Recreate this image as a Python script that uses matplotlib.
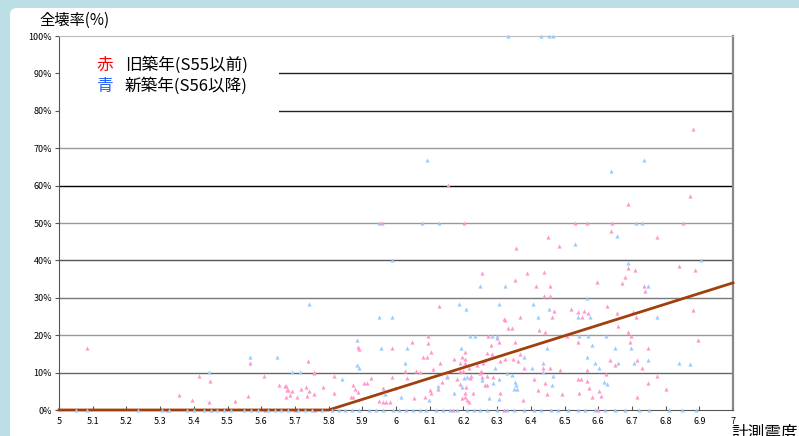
# -*- coding: utf-8 -*-
"""
Total collapse rate of wooden houses against measured seismic intensity.
Red marks: older buildings (built S55 or earlier), blue marks: newer ones
(built S56 or later). The brown line is the fitted damage curve.
"""

import matplotlib.pyplot as plt
from matplotlib.patches import FancyBboxPatch, Rectangle

plt.rcParams['font.family'] = ['Noto Sans CJK JP', 'DejaVu Sans']

#--------#
# INPUTS #
#--------#

# old buildings (S55 and before): intensity, collapse rate [%]
old_x = [5.083, 5.567, 5.739, 5.757, 5.816, 5.415, 5.448, 5.608, 5.357, 5.395,
         5.445, 5.523, 5.561, 5.653, 5.674, 5.680, 5.690, 5.674, 5.685, 5.706,
         5.718, 5.733, 5.742, 5.736, 5.757, 5.783, 5.816, 5.757, 5.671, 5.677,
         6.154, 5.958, 6.202, 6.356, 6.255, 6.389, 6.353, 6.881,
         6.872, 6.688, 6.531, 6.567, 6.641, 6.852, 6.638, 6.451, 6.774, 6.484,
         6.688, 6.709, 6.840, 6.887, 6.439, 6.679, 6.671, 6.596, 6.415, 6.457,
         6.736, 6.739, 6.439, 6.457, 6.626, 6.519, 6.469, 6.540, 6.558, 6.570,
         6.656, 6.703, 6.881, 6.463, 6.552, 6.712, 6.659, 6.424, 6.442, 6.507,
         6.688, 6.697, 6.896, 6.540, 6.694, 6.748, 6.368, 6.635, 6.715, 6.650,
         6.380, 6.436, 6.457, 6.487, 6.567, 6.730, 6.623, 6.774, 6.409, 6.540,
         6.549, 6.442, 6.567, 6.748, 6.573, 6.801, 6.421, 6.602, 6.448, 6.493,
         6.543, 6.608, 6.582, 6.715, 6.377,
         6.323, 6.332, 6.344, 6.273, 6.300, 6.306, 6.353, 6.282, 6.205, 6.270,
         6.285, 6.172, 6.205, 6.196, 6.264, 6.309, 6.323, 6.347, 6.362, 6.190,
         6.205, 6.240, 6.258, 6.217, 6.190, 6.199, 6.252, 6.249, 6.223, 6.220,
         6.181, 6.255, 6.270, 6.288, 6.190, 6.264, 6.270, 6.208, 6.205, 6.229,
         6.309, 6.196, 6.211, 6.217, 6.205, 6.368, 6.320,
         6.128, 5.887, 5.890, 5.988, 6.047, 6.095, 6.095, 6.104, 6.080, 6.092,
         6.131, 6.027, 6.059, 6.071, 6.110, 5.988, 5.926, 6.033, 5.905, 5.914,
         5.872, 5.878, 5.961, 5.997, 5.887, 6.101, 6.104, 5.866, 5.872, 6.053,
         6.086, 5.950, 5.961, 5.970, 5.982, 6.125, 6.137, 6.151,
         5.320, 5.450, 5.610, 5.700, 5.760, 6.170, 6.320, 6.600]
old_y = [16.6, 12.6, 13.1, 10.2, 9.1, 9.1, 7.8, 9.1, 4.0, 2.7,
         2.1, 2.4, 3.7, 6.7, 6.4, 5.3, 5.1, 3.5, 4.0, 3.5,
         5.6, 6.1, 5.1, 3.7, 4.3, 6.1, 4.5, 9.9, 6.4, 5.3,
         60.2, 50.0, 50.0, 43.3, 36.6, 36.6, 34.8, 75.1,
         57.2, 55.1, 50.0, 50.0, 50.0, 50.0, 47.9, 46.3, 46.3, 43.9,
         38.0, 37.4, 38.5, 37.4, 36.9, 35.6, 34.0, 34.2, 33.2, 33.2,
         33.2, 31.8, 30.5, 30.5, 27.8, 27.0, 26.5, 26.2, 26.5, 25.9,
         25.9, 26.2, 26.7, 24.9, 24.9, 24.9, 22.5, 21.4, 20.9, 19.8,
         20.9, 19.8, 18.7, 18.2, 18.2, 16.6, 15.0, 13.4, 13.4, 12.0,
         11.2, 11.2, 11.2, 10.7, 10.7, 11.2, 9.6, 9.1, 8.3, 8.3,
         8.3, 7.2, 7.8, 7.2, 5.9, 5.6, 5.3, 5.1, 4.3, 4.3,
         4.5, 3.7, 3.5, 3.5, 2.7,
         24.1, 21.9, 21.9, 19.8, 19.3, 18.2, 18.2, 17.4, 15.5, 15.2,
         15.0, 13.6, 13.6, 14.2, 13.4, 13.1, 13.6, 13.6, 13.1, 12.6,
         12.6, 12.0, 12.6, 11.2, 10.4, 10.4, 10.4, 9.9, 9.1, 8.6,
         8.3, 8.8, 9.1, 8.8, 7.0, 6.7, 6.7, 6.1, 4.5, 4.5,
         4.5, 3.2, 2.7, 2.1, 3.5, 24.9, 24.3,
         27.8, 16.8, 16.3, 16.6, 18.2, 19.8, 17.9, 15.5, 14.2, 14.2,
         12.6, 10.4, 10.4, 10.2, 11.0, 8.8, 8.6, 8.6, 7.2, 7.2,
         6.7, 5.6, 5.9, 5.9, 4.8, 5.3, 4.5, 3.5, 3.5, 3.2,
         3.5, 2.4, 2.1, 2.1, 2.1, 5.6, 7.5, 8.8,
         0, 0, 0, 0, 0, 0, 0, 0]

# new buildings (S56 and after)
new_x = [5.742, 5.567, 5.647, 5.445, 5.690, 5.716,
         6.332, 6.430, 6.454, 6.466,
         6.092, 5.950, 6.077, 6.128, 5.988, 6.249, 6.323,
         6.736, 6.638, 6.712, 6.730, 6.656, 6.531, 6.905, 6.688, 6.748, 6.567,
         6.407, 6.454, 6.421, 6.540, 6.576, 6.774, 6.543, 6.570, 6.623, 6.582,
         6.448, 6.650, 6.697, 6.380, 6.567, 6.748, 6.436, 6.590, 6.659, 6.706,
         6.840, 6.872, 6.404, 6.602, 6.436, 6.466, 6.617, 6.626, 6.463,
         6.187, 6.208, 6.306, 6.220, 6.234, 6.285, 6.300, 6.193, 6.294, 6.329,
         6.202, 6.211, 6.255, 6.306, 6.344, 6.288, 6.353, 6.356, 6.196, 6.359,
         6.350, 6.172, 6.276, 6.306,
         5.950, 5.988, 5.884, 5.955, 6.033, 6.027, 5.884, 5.890, 5.840, 5.967,
         6.015, 6.098, 6.125, 6.151,
         5.050, 5.083, 5.234, 5.306, 5.326, 5.380, 5.400, 5.430, 5.450, 5.470,
         5.490, 5.510, 5.550, 5.570, 5.590, 5.620, 5.640, 5.660, 5.680, 5.710,
         5.730, 5.750, 5.780, 5.810, 5.830, 5.850, 5.870, 5.890, 5.920, 5.940,
         5.960, 5.990, 6.010, 6.030, 6.050, 6.070, 6.090, 6.120, 6.140, 6.160,
         6.180, 6.210, 6.230, 6.250, 6.270, 6.300, 6.330, 6.350, 6.380, 6.410,
         6.430, 6.460, 6.480, 6.510, 6.540, 6.560, 6.590, 6.620, 6.650, 6.680,
         6.720, 6.750, 6.810, 6.850, 6.890]
new_y = [28.3, 14.2, 14.2, 10.2, 10.2, 10.2,
         100, 100, 100, 100,
         66.8, 50.0, 50.0, 50.0, 40.1, 33.2, 33.2,
         66.8, 63.9, 50.0, 50.0, 46.5, 44.4, 40.1, 39.3, 33.2, 29.9,
         28.3, 27.0, 24.9, 24.9, 24.9, 24.9, 19.8, 19.8, 19.8, 17.4,
         16.6, 16.6, 16.6, 14.2, 14.2, 13.4, 12.6, 12.6, 12.6, 12.6,
         12.6, 12.3, 11.2, 11.2, 10.2, 9.1, 7.5, 7.0, 6.7,
         28.3, 27.0, 28.3, 19.8, 19.8, 19.8, 19.8, 16.6, 11.2, 9.9,
         8.6, 8.8, 8.0, 8.3, 9.4, 7.2, 7.5, 6.7, 6.1, 5.6,
         5.6, 4.5, 3.2, 2.9,
         24.9, 24.9, 18.7, 16.6, 16.6, 12.6, 12.0, 11.2, 8.3, 4.3,
         3.5, 2.7, 6.4, 9.1] + [0] * 65

# fitted damage curve (knots)
fit_x = [5.0, 5.8, 7.0]
fit_y = [0.0, 0.0, 34.0]

x_ticks = [5, 5.1, 5.2, 5.3, 5.4, 5.5, 5.6, 5.7, 5.8, 5.9,
           6, 6.1, 6.2, 6.3, 6.4, 6.5, 6.6, 6.7, 6.8, 6.9, 7]
y_ticks = [0, 10, 20, 30, 40, 50, 60, 70, 80, 90, 100]

# grid line colours, 10% .. 90%
grid_cols = ['#666666', '#999999', '#777777', '#555555', '#999999',
             '#000000', '#999999', '#222222', '#222222']

#------#
# MAIN #
#------#

fig = plt.figure(figsize=(7.99, 4.36), dpi=100)
fig.patch.set_facecolor('#bcdfe5')

# white sheet with rounded top-left corner (kept behind the axes)
sheet = FancyBboxPatch((0.10, -0.3), 8.2, 4.58,
                       boxstyle='round,pad=0,rounding_size=0.07',
                       transform=fig.dpi_scale_trans, facecolor='white',
                       edgecolor='none', zorder=-5)
fig.patches.append(sheet)

ax = fig.add_axes([59 / 799, 26 / 436, 674 / 799, 374 / 436])
ax.set_zorder(1)
ax.set_facecolor('none')
ax.set_xlim(5, 7)
ax.set_ylim(0, 100)

# horizontal grid
for val, col in zip(y_ticks[1:-1], grid_cols):
    ax.axhline(val, color=col, lw=1.0, zorder=1)

# white box behind the legend text
ax.add_patch(Rectangle((0.0, 0.762), 0.326, 0.225, transform=ax.transAxes,
                       facecolor='white', edgecolor='none', zorder=2))

ax.scatter(old_x, old_y, marker='^', s=9, color='#ff99cc', linewidths=0,
           zorder=3, clip_on=False)
ax.plot(fit_x, fit_y, color='#a0400c', lw=2.0, zorder=4, clip_on=False)
ax.scatter(new_x, new_y, marker='^', s=9, color='#99ccff', linewidths=0,
           zorder=5, clip_on=False)

# frame
ax.spines['left'].set_color('#555555')
ax.spines['bottom'].set_color('#555555')
ax.spines['top'].set_color('#bbbbbb')
ax.spines['right'].set_color('#888888')
ax.spines['right'].set_linewidth(1.6)

ax.set_xticks(x_ticks)
ax.set_xticklabels(['%g' % t for t in x_ticks], fontsize=6.5)
ax.set_yticks(y_ticks)
ax.set_yticklabels(['%d%%' % t for t in y_ticks], fontsize=6.5)
ax.tick_params(axis='x', direction='in', length=3, color='#555555', pad=5)
ax.tick_params(axis='y', direction='out', length=3, color='#555555', pad=2)

# axis titles
fig.text(39 / 799, 1 - 20 / 436, '全壊率(%)', fontsize=11, ha='left',
         va='center')
fig.text(731 / 799, 1 - 433 / 436, '計測震度', fontsize=12, ha='left',
         va='center')

# legend
fig.text(105 / 799, 1 - 65 / 436, '赤', color='red', fontsize=12,
         ha='center', va='center')
fig.text(125 / 799, 1 - 65 / 436, '旧築年(S55以前)', fontsize=12,
         ha='left', va='center')
fig.text(105 / 799, 1 - 86 / 436, '青', color='#1f5fff', fontsize=12,
         ha='center', va='center')
fig.text(125 / 799, 1 - 86 / 436, '新築年(S56以降)', fontsize=12,
         ha='left', va='center')

fig.savefig('out.png', dpi=100, facecolor=fig.get_facecolor())
